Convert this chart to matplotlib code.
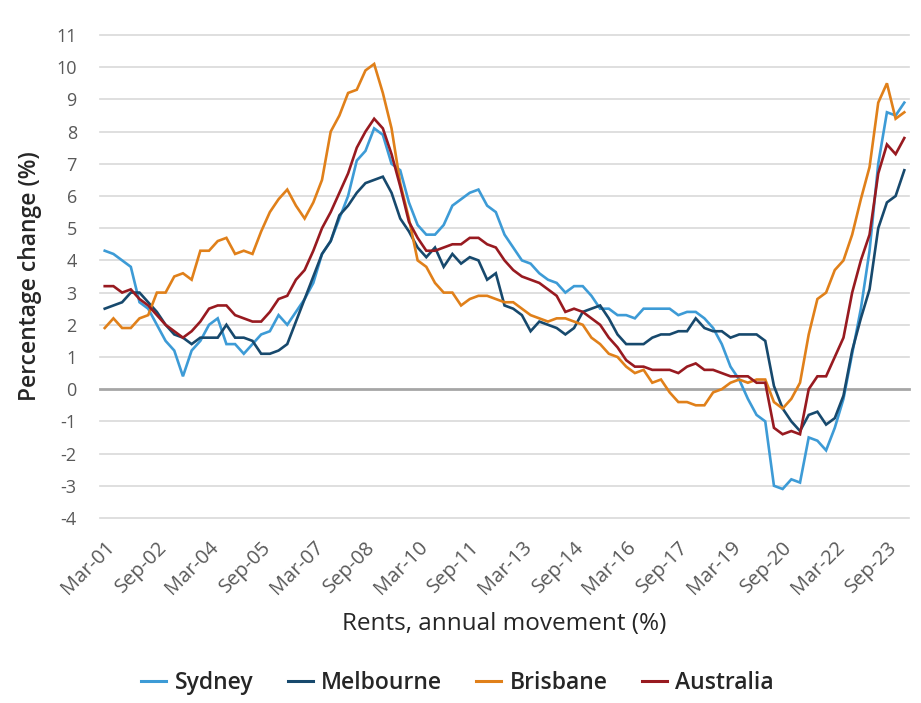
import numpy as np
import matplotlib
matplotlib.use('Agg')
import matplotlib.pyplot as plt

## quarterly data, Mar-01 .. Mar-24
tick_labels = ['Mar-01', 'Sep-02', 'Mar-04', 'Sep-05', 'Mar-07', 'Sep-08', 'Mar-10', 'Sep-11',
               'Mar-13', 'Sep-14', 'Mar-16', 'Sep-17', 'Mar-19', 'Sep-20', 'Mar-22', 'Sep-23']

sydney = [4.3, 4.2, 4.0, 3.8, 2.7, 2.5, 2.0, 1.5, 1.2, 0.4, 1.2, 1.5, 2.0, 2.2, 1.4, 1.4,
          1.1, 1.4, 1.7, 1.8, 2.3, 2.0, 2.4, 2.8, 3.3, 4.2, 4.6, 5.3, 6.0, 7.1, 7.4, 8.1,
          7.9, 7.0, 6.8, 5.8, 5.1, 4.8, 4.8, 5.1, 5.7, 5.9, 6.1, 6.2, 5.7, 5.5, 4.8, 4.4,
          4.0, 3.9, 3.6, 3.4, 3.3, 3.0, 3.2, 3.2, 2.9, 2.5, 2.5, 2.3, 2.3, 2.2, 2.5, 2.5,
          2.5, 2.5, 2.3, 2.4, 2.4, 2.2, 1.9, 1.4, 0.7, 0.3, -0.3, -0.8, -1.0, -3.0, -3.1, -2.8,
          -2.9, -1.5, -1.6, -1.9, -1.2, -0.3, 1.1, 2.5, 4.3, 7.0, 8.6, 8.5, 8.9]

melbourne = [2.5, 2.6, 2.7, 3.0, 3.0, 2.7, 2.4, 2.0, 1.7, 1.6, 1.4, 1.6, 1.6, 1.6, 2.0, 1.6,
             1.6, 1.5, 1.1, 1.1, 1.2, 1.4, 2.1, 2.8, 3.5, 4.2, 4.6, 5.4, 5.7, 6.1, 6.4, 6.5,
             6.6, 6.1, 5.3, 4.9, 4.4, 4.1, 4.4, 3.8, 4.2, 3.9, 4.1, 4.0, 3.4, 3.6, 2.6, 2.5,
             2.3, 1.8, 2.1, 2.0, 1.9, 1.7, 1.9, 2.4, 2.5, 2.6, 2.2, 1.7, 1.4, 1.4, 1.4, 1.6,
             1.7, 1.7, 1.8, 1.8, 2.2, 1.9, 1.8, 1.8, 1.6, 1.7, 1.7, 1.7, 1.5, 0.1, -0.6, -1.0,
             -1.3, -0.8, -0.7, -1.1, -0.9, -0.2, 1.2, 2.2, 3.1, 5.0, 5.8, 6.0, 6.8]

brisbane = [1.9, 2.2, 1.9, 1.9, 2.2, 2.3, 3.0, 3.0, 3.5, 3.6, 3.4, 4.3, 4.3, 4.6, 4.7, 4.2,
            4.3, 4.2, 4.9, 5.5, 5.9, 6.2, 5.7, 5.3, 5.8, 6.5, 8.0, 8.5, 9.2, 9.3, 9.9, 10.1,
            9.2, 8.1, 6.4, 5.3, 4.0, 3.8, 3.3, 3.0, 3.0, 2.6, 2.8, 2.9, 2.9, 2.8, 2.7, 2.7,
            2.5, 2.3, 2.2, 2.1, 2.2, 2.2, 2.1, 2.0, 1.6, 1.4, 1.1, 1.0, 0.7, 0.5, 0.6, 0.2,
            0.3, -0.1, -0.4, -0.4, -0.5, -0.5, -0.1, 0.0, 0.2, 0.3, 0.2, 0.3, 0.3, -0.4, -0.6, -0.3,
            0.2, 1.7, 2.8, 3.0, 3.7, 4.0, 4.8, 5.9, 6.9, 8.9, 9.5, 8.4, 8.6]

australia = [3.2, 3.2, 3.0, 3.1, 2.8, 2.6, 2.3, 2.0, 1.8, 1.6, 1.8, 2.1, 2.5, 2.6, 2.6, 2.3,
             2.2, 2.1, 2.1, 2.4, 2.8, 2.9, 3.4, 3.7, 4.3, 5.0, 5.5, 6.1, 6.7, 7.5, 8.0, 8.4,
             8.1, 7.3, 6.3, 5.2, 4.7, 4.3, 4.3, 4.4, 4.5, 4.5, 4.7, 4.7, 4.5, 4.4, 4.0, 3.7,
             3.5, 3.4, 3.3, 3.1, 2.9, 2.4, 2.5, 2.4, 2.2, 2.0, 1.6, 1.3, 0.9, 0.7, 0.7, 0.6,
             0.6, 0.6, 0.5, 0.7, 0.8, 0.6, 0.6, 0.5, 0.4, 0.4, 0.4, 0.2, 0.2, -1.2, -1.4, -1.3,
             -1.4, 0.0, 0.4, 0.4, 1.0, 1.6, 3.0, 4.0, 4.8, 6.7, 7.6, 7.3, 7.8]

series = [('Sydney', sydney, '#3d9bd6'),
          ('Melbourne', melbourne, '#17496d'),
          ('Brisbane', brisbane, '#e0801a'),
          ('Australia', australia, '#981a20')]

plt.rcParams['font.family'] = ['Open Sans', 'DejaVu Sans']

fig = plt.figure(figsize=(9.21, 7.03), dpi=100)
ax = fig.add_axes([0.109, 0.2632, 0.8776, 0.687])

x = np.arange(len(sydney))
for name, vals, col in series:
    ax.plot(x, vals, color=col, lw=1.9, label=name, zorder=3, solid_joinstyle='miter')

# gridlines, zero line a bit darker
for v in range(-4, 12):
    if v == 0:
        ax.axhline(0, color='#a6a6a6', lw=2.0, zorder=2, clip_on=False)
    else:
        ax.axhline(v, color='#d9d9d9', lw=1.2, zorder=1, clip_on=False)

ax.set_xlim(-0.5, len(sydney) - 0.5)
ax.set_ylim(-4, 11)
ax.set_yticks(range(-4, 12))
ax.set_yticklabels([str(v) for v in range(-4, 12)], fontsize=13, color='#595959')
ax.set_xticks(x[::6])
ax.set_xticklabels(tick_labels, rotation=45, ha='right', rotation_mode='anchor',
                   fontsize=14.5, color='#595959')
ax.tick_params(axis='both', length=0)
ax.tick_params(axis='y', pad=17)
ax.tick_params(axis='x', pad=14)
for s in ax.spines.values():
    s.set_visible(False)

ax.set_ylabel('Percentage change (%)', fontsize=16.5, fontweight='semibold', color='#262626',
              labelpad=10)
ax.set_xlabel('Rents, annual movement (%)', fontsize=17.5, color='#262626', labelpad=9)

leg = ax.legend(loc='center', bbox_to_anchor=(0.4418, -0.3416), ncol=4, frameon=False,
                prop={'size': 16.5, 'weight': 'semibold'}, handlelength=1.1,
                columnspacing=1.5, handletextpad=0.35, labelcolor='#262626')
for h in leg.legend_handles:
    h.set_linewidth(2.2)

fig.savefig('out.png', dpi=100)
